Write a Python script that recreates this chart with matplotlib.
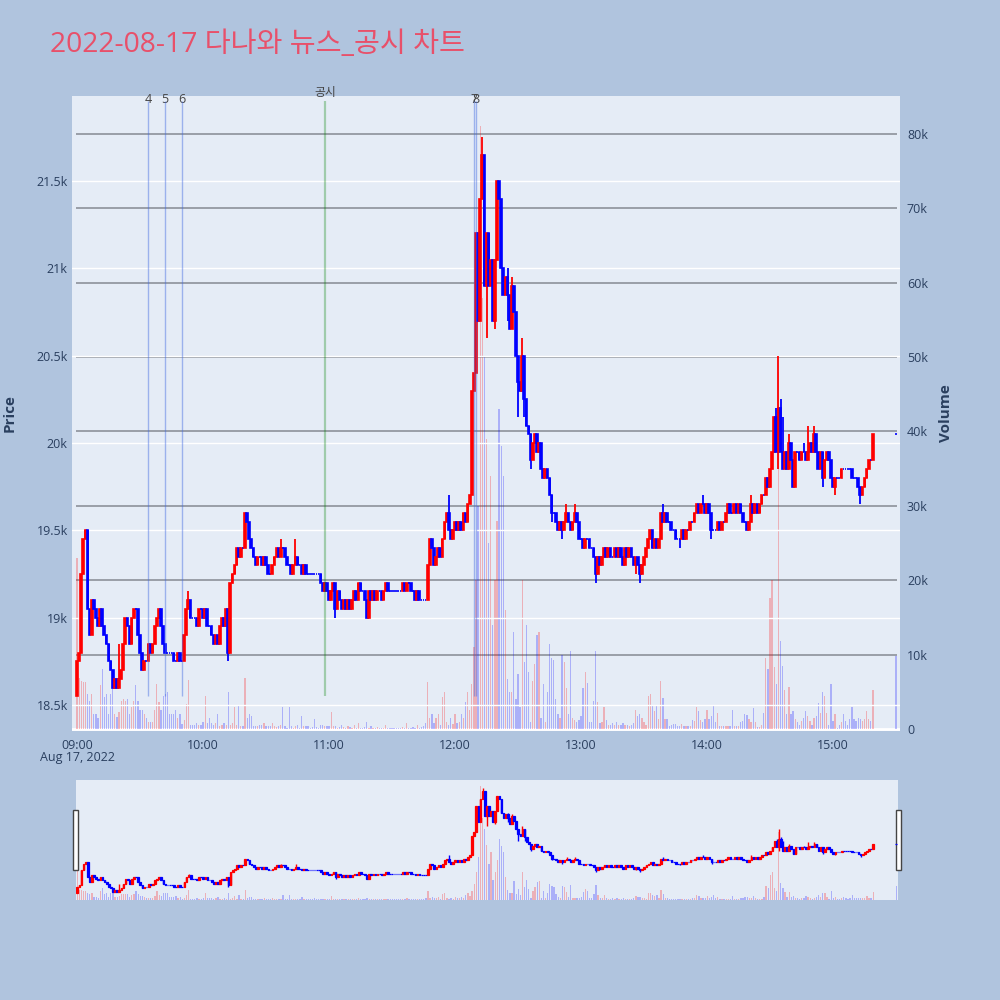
import matplotlib
matplotlib.use("Agg")
import matplotlib.pyplot as plt
from matplotlib.patches import Rectangle
import numpy as np

plt.rcParams['font.family'] = ['Open Sans', 'Noto Sans CJK KR', 'DejaVu Sans']

TITLE = "2022-08-17 다나와 뉴스_공시 차트"

# 1분봉 종가 (09:00 ~ 15:19), 시가는 직전 종가
FIRST_OPEN = 18550
closes = [
    18750, 18800, 19250, 19450, 19500, 19050, 18900, 19100, 19050, 19000,
    18950, 19050, 18950, 18900, 18850, 18750, 18700, 18600, 18650, 18600,
    18650, 18700, 18850, 19000, 18950, 18850, 19000, 19050, 19050, 18900,
    18800, 18700, 18750, 18750, 18850, 18800, 18850, 18950, 19000, 19050,
    18950, 18850, 18800, 18800, 18800, 18800, 18750, 18750, 18800, 18750,
    18750, 18900, 19050, 19100, 19000, 19000, 19000, 18950, 19050, 19050,
    19000, 19050, 18950, 18950, 18900, 18850, 18900, 18850, 18950, 19000,
    18950, 19050, 18800, 19200, 19250, 19300, 19400, 19350, 19400, 19400,
    19600, 19550, 19450, 19400, 19350, 19300, 19350, 19350, 19300, 19350,
    19300, 19250, 19250, 19300, 19350, 19400, 19350, 19400, 19400, 19350,
    19300, 19300, 19250, 19300, 19350, 19300, 19300, 19250, 19300, 19250,
    19250, 19250, 19250, 19250, 19250, 19250, 19200, 19150, 19200, 19150,
    19100, 19150, 19200, 19050, 19150, 19100, 19050, 19100, 19050, 19100,
    19050, 19100, 19150, 19100, 19200, 19150, 19150, 19100, 19000, 19150,
    19100, 19150, 19100, 19150, 19150, 19100, 19150, 19200, 19150, 19150,
    19150, 19150, 19150, 19150, 19150, 19200, 19150, 19200, 19200, 19150,
    19150, 19100, 19150, 19100, 19100, 19100, 19100, 19300, 19450, 19400,
    19300, 19350, 19400, 19350, 19450, 19550, 19600, 19500, 19450, 19500,
    19550, 19500, 19550, 19500, 19600, 19550, 19650, 19700, 20300, 20400,
    21200, 20700, 21400, 21650, 20900, 21200, 20900, 21050, 20700, 21050,
    21500, 21400, 21000, 20850, 20950, 20850, 20650, 20900, 20750, 20500,
    20350, 20300, 20500, 20250, 20100, 20050, 19900, 20000, 20050, 19950,
    20000, 19850, 19800, 19850, 19800, 19700, 19600, 19600, 19550, 19500,
    19550, 19500, 19550, 19600, 19550, 19500, 19550, 19600, 19550, 19450,
    19450, 19400, 19450, 19450, 19400, 19400, 19350, 19250, 19350, 19300,
    19350, 19400, 19350, 19400, 19350, 19350, 19400, 19350, 19400, 19350,
    19300, 19400, 19350, 19400, 19350, 19300, 19350, 19300, 19250, 19300,
    19350, 19400, 19450, 19500, 19400, 19450, 19400, 19450, 19600, 19550,
    19600, 19550, 19550, 19500, 19500, 19450, 19450, 19450, 19500, 19450,
    19500, 19500, 19550, 19550, 19600, 19650, 19600, 19650, 19650, 19600,
    19650, 19600, 19500, 19500, 19500, 19550, 19500, 19550, 19550, 19600,
    19650, 19600, 19600, 19650, 19600, 19650, 19600, 19550, 19550, 19500,
    19550, 19650, 19600, 19650, 19600, 19650, 19700, 19700, 19800, 19750,
    19850, 19950, 20150, 19950, 20200, 19950, 19850, 19950, 19850, 20000,
    19900, 19750, 19950, 19950, 19900, 19950, 19950, 19900, 19950, 20000,
    19950, 20050, 19950, 19850, 19950, 19800, 19900, 19950, 19900, 19800,
    19750, 19800, 19800, 19800, 19850, 19850, 19850, 19850, 19850, 19800,
    19800, 19800, 19750, 19700, 19750, 19800, 19850, 19900, 19900, 20050,
]
CLOSE_AUCTION = 20050  # 15:30 종가

# 거래량 (천 주)
volumes_k = [
    23, 6.8, 6.5, 6.3, 6.3, 4.7, 3.8, 4.7, 2.0, 2.0,
    1.5, 5.9, 8.0, 4.3, 4.7, 2.0, 4.7, 7.7, 2.0, 1.6,
    2.3, 3.8, 4.0, 3.8, 4.0, 2.0, 3.0, 3.8, 5.9, 3.8,
    2.5, 2.5, 2.0, 1.5, 1.0, 0.9, 1.0, 2.5, 6.0, 3.6,
    2.5, 4.5, 4.7, 5.0, 2.0, 2.0, 2.0, 2.5, 1.5, 2.0,
    0.7, 1.2, 3.4, 6.6, 0.5, 0.6, 0.6, 0.8, 0.6, 0.5,
    0.9, 4.5, 0.8, 1.5, 0.8, 0.6, 0.8, 2.0, 0.4, 0.6,
    0.8, 0.6, 5.0, 0.6, 0.8, 2.9, 0.6, 3.1, 0.4, 0.4,
    6.9, 1.5, 2.0, 1.8, 0.4, 0.4, 0.4, 0.6, 0.6, 0.8,
    0.4, 0.4, 0.4, 0.8, 0.4, 0.3, 0.4, 0.6, 3.0, 0.4,
    0.2, 3.0, 0.4, 0.2, 0.4, 0.6, 0.2, 1.7, 0.4, 0.4,
    0.4, 0.2, 0.3, 1.3, 0.3, 0.2, 0.6, 0.6, 0.4, 0.4,
    0.4, 2.3, 0.4, 0.4, 0.2, 0.3, 0.5, 0.3, 0.2, 0.4,
    0.3, 0.2, 0.6, 0.2, 0.8, 0.2, 0.1, 0.3, 1.0, 0.2,
    0.4, 0.2, 0.2, 0.3, 0.2, 0.1, 0.2, 0.6, 0.1, 0.1,
    0.1, 0.1, 0.1, 0.1, 0.1, 0.3, 0.1, 0.8, 0.2, 0.1,
    0.3, 0.2, 0.6, 0.2, 0.3, 0.4, 0.8, 6.3, 1.5, 2.0,
    0.8, 1.5, 2.0, 0.6, 4.3, 5.0, 1.0, 0.5, 1.5, 0.7,
    2.0, 0.8, 1.0, 2.0, 1.5, 3.6, 5.0, 2.5, 6.0, 11.0,
    20, 30, 81, 58, 50, 39, 25, 34, 14, 20,
    28, 43, 38, 34, 16, 6.7, 5.0, 5.0, 13, 4.0,
    7.4, 3.0, 20, 9.0, 14, 7.6, 1.0, 6.4, 8.8, 12.6,
    13, 1.5, 6.0, 1.0, 5.0, 11.4, 9.5, 9.3, 4.0, 2.0,
    1.5, 10, 9.0, 5.5, 2.0, 10.5, 1.5, 1.2, 1.0, 1.2,
    1.8, 5.5, 7.6, 6.2, 1.0, 1.0, 3.8, 10.5, 3.6, 0.8,
    1.0, 3.0, 1.2, 0.6, 0.5, 0.8, 0.6, 1.0, 0.5, 0.6,
    0.8, 0.5, 0.6, 0.4, 0.5, 0.8, 2.6, 1.7, 2.0, 1.5,
    0.9, 0.6, 4.4, 4.7, 3.1, 2.4, 3.1, 1.3, 6.5, 4.2,
    1.3, 1.3, 0.4, 0.6, 0.7, 0.7, 0.4, 0.4, 0.7, 0.4,
    0.4, 0.4, 0.4, 1.2, 1.1, 3.0, 2.4, 1.2, 0.9, 1.3,
    2.6, 1.3, 1.8, 3.1, 0.9, 2.2, 0.4, 0.4, 0.4, 0.4,
    0.4, 0.4, 2.6, 0.4, 0.4, 0.4, 0.9, 1.1, 2.0, 1.9,
    1.3, 0.9, 2.8, 0.9, 0.3, 0.3, 0.6, 2.2, 9.6, 8.0,
    17.6, 20, 8.3, 6.0, 48, 11.8, 8.5, 5.3, 2.0, 5.6,
    2.0, 2.4, 1.3, 0.9, 0.6, 1.1, 1.5, 2.4, 1.8, 1.1,
    0.6, 1.5, 1.8, 3.5, 2.2, 5.0, 4.4, 2.2, 0.6, 6.0,
    1.1, 2.0, 0.2, 0.6, 0.9, 2.0, 1.1, 0.6, 1.3, 3.0,
    1.3, 1.1, 1.5, 1.3, 1.1, 1.3, 2.4, 1.3, 1.1, 5.3,
]
VOLUME_AUCTION_K = 9.8

# 꼬리 (고가, 저가) - None 이면 몸통 끝
wicks = {
    0: (18750, 18550), 20: (18850, None), 53: (19150, None), 72: (19050, 18750),
    97: (19450, None), 104: (19450, None), 123: (None, 19000), 138: (None, 19000),
    147: (19200, None), 177: (19700, None), 193: (21750, None), 195: (None, 20600),
    199: (None, 20650), 205: (21000, 20700), 207: (20950, None), 210: (None, 20150),
    212: (20600, None), 213: (None, 20150), 216: (None, 19850), 226: (None, 19550),
    231: (None, 19450), 233: (19650, None), 237: (19650, None), 247: (None, 19200),
    266: (None, 19250), 268: (None, 19200), 279: (19650, None), 287: (None, 19400),
    298: (19700, None), 302: (None, 19450), 321: (19700, None), 333: (20200, None),
    334: (20500, 19850), 335: (20250, None), 336: (20150, None), 339: (20050, None),
    346: (20000, None), 348: (20100, None), 351: (20100, None), 355: (None, 19750),
    361: (None, 19700), 373: (None, 19650),
}

news_times = ["09:34", "09:42", "09:50", "12:09", "12:10"]
news_labels = ["4", "5", "6", "7", "8"]
notice_time = "10:58"
notice_label = "공시"

price_ticks = [18500, 19000, 19500, 20000, 20500, 21000, 21500]
volume_ticks_k = [0, 10, 20, 30, 40, 50, 60, 70, 80]
hour_ticks = ["09:00", "10:00", "11:00", "12:00", "13:00", "14:00", "15:00"]

BG = '#B0C4DE'
PLOT_BG = '#E5ECF6'
UP = '#FF0000'
DOWN = '#0000FF'
TEXT = '#2a3f5f'


def to_minute(hhmm):
    h, m = map(int, hhmm.split(':'))
    return (h - 9) * 60 + m


assert len(closes) == 380 and len(volumes_k) == 380

minutes = np.array(list(range(len(closes))) + [to_minute("15:30")])
close = np.array(closes + [CLOSE_AUCTION], dtype=float)
opens = np.concatenate([[FIRST_OPEN], close[:-1]])
highs = np.maximum(opens, close)
lows = np.minimum(opens, close)
for m, (hi, lo) in wicks.items():
    if hi is not None:
        highs[m] = max(highs[m], hi)
    if lo is not None:
        lows[m] = min(lows[m], lo)
vols = np.array(volumes_k + [VOLUME_AUCTION_K])
up = close > opens
colors = np.where(up, UP, DOWN)


def draw(ax_p, ax_v, body_w, body_lw, wick_lw):
    ax_v.bar(minutes, vols, width=0.6, color=colors, alpha=0.25, linewidth=0, zorder=2)
    ax_p.vlines(minutes, lows, highs, colors=colors, linewidth=wick_lw, zorder=3)
    ax_p.bar(minutes, np.abs(close - opens), bottom=np.minimum(opens, close), width=body_w,
             color=colors, edgecolor=colors, linewidth=body_lw, zorder=3)


def clean(ax):
    for s in ax.spines.values():
        s.set_visible(False)


fig = plt.figure(figsize=(10, 10), dpi=100, facecolor=BG)

ax = fig.add_axes([0.072, 0.269, 0.828, 0.635])
axv = ax.twinx()
ax.set_zorder(axv.get_zorder() + 1)
ax.patch.set_visible(False)
axv.patch.set_visible(True)
axv.patch.set_facecolor(PLOT_BG)

ax.set_xlim(-2.4, 391.9)
ax.set_ylim(18351, 21987)
axv.set_ylim(-0.27, 85.1)

for p in price_ticks:
    ax.axhline(p, color='white', linewidth=1.0, zorder=0.5)
axv.hlines(volume_ticks_k[1:], -0.5, 390.5, color='#858a92', linewidth=1.1, zorder=1)
axv.axhline(0, color='white', linewidth=2, zorder=1)

draw(ax, axv, 0.8, 1.2, 1.3)

# 뉴스 / 공시 시점
line_lo, line_hi = 18550, 21960
for t, lab in zip(news_times, news_labels):
    m = to_minute(t)
    ax.vlines(m, line_lo, line_hi, color='royalblue', alpha=0.45, linewidth=1.0, zorder=4)
    ax.text(m, line_hi - 30, lab, ha='center', va='bottom', fontsize=9, color='#444444')
m = to_minute(notice_time)
ax.vlines(m, line_lo, line_hi, color='green', alpha=0.3, linewidth=1.6, zorder=4)
ax.text(m, line_hi + 10, notice_label, ha='center', va='bottom', fontsize=8.5, color='#444444')

ax.set_yticks(price_ticks)
ax.set_yticklabels([f"{p / 1000:g}k" for p in price_ticks])
axv.set_yticks(volume_ticks_k)
axv.set_yticklabels(["0"] + [f"{v}k" for v in volume_ticks_k[1:]])
ax.set_xticks([to_minute(h) for h in hour_ticks])
ax.set_xticklabels(hour_ticks)
ax.tick_params(axis='both', length=0, labelsize=9, labelcolor=TEXT)
ax.tick_params(axis='y', pad=3)
ax.tick_params(axis='x', pad=6)
axv.tick_params(axis='y', length=0, labelsize=9, labelcolor=TEXT, pad=5)
clean(ax)
clean(axv)

fig.text(0.077, 1 - 0.758, "Aug 17, 2022", ha='center', va='center', fontsize=9, color=TEXT)
fig.text(0.010, 1 - 0.413, "Price", rotation=90, ha='center', va='center',
         fontsize=11, fontweight='bold', color=TEXT)
fig.text(0.946, 1 - 0.413, "Volume", rotation=90, ha='center', va='center',
         fontsize=11, fontweight='bold', color=TEXT)
fig.text(0.050, 1 - 0.052, TITLE, fontsize=20.3, color='#E8506A', va='baseline')

# 레인지 슬라이더
axs = fig.add_axes([0.076, 0.100, 0.822, 0.120])
axsv = axs.twinx()
axs.set_zorder(axsv.get_zorder() + 1)
axs.patch.set_visible(False)
axsv.patch.set_visible(True)
axsv.patch.set_facecolor(PLOT_BG)
axs.set_xlim(-0.6, 390.8)
axs.set_ylim(18351, 21987)
axsv.set_ylim(-0.27, 85.1)
draw(axs, axsv, 0.8, 0.9, 1.0)
for a in (axs, axsv):
    a.set_xticks([])
    a.set_yticks([])
    clean(a)

for hx in (0.073, 0.896):
    fig.add_artist(Rectangle((hx, 1 - 0.870), 0.005, 0.060, transform=fig.transFigure,
                             facecolor='white', edgecolor='#444444', linewidth=1))

fig.savefig("out.png", dpi=100, facecolor=BG)
